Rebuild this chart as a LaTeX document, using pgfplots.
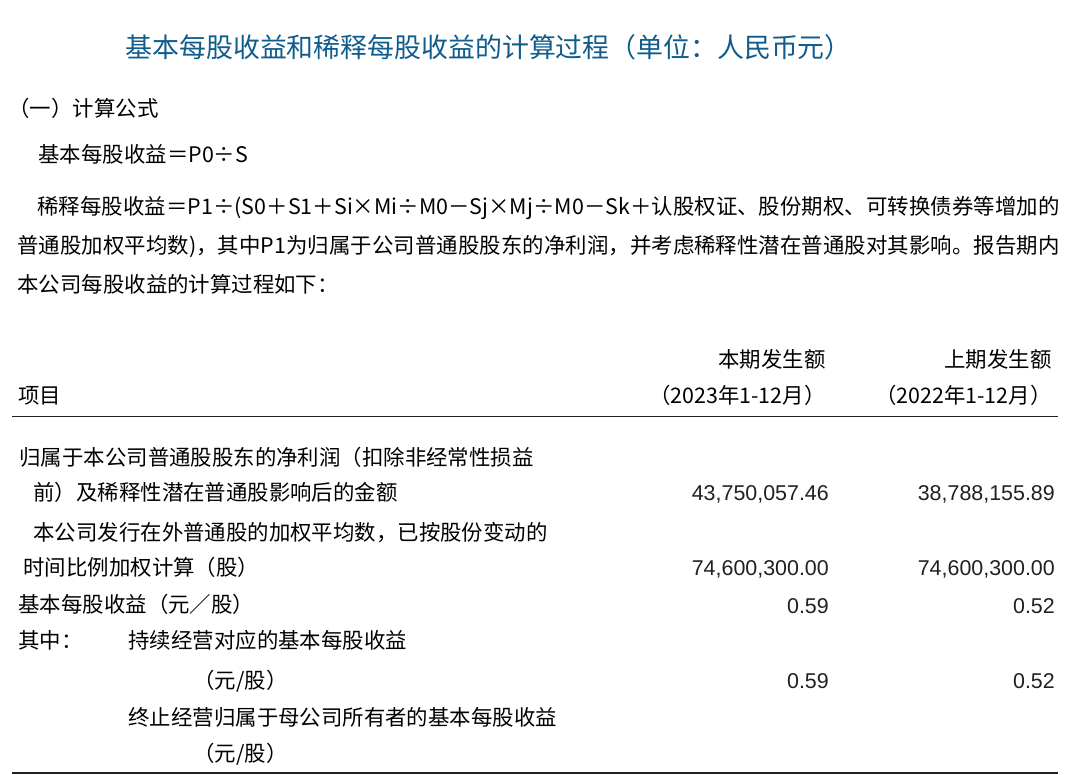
\documentclass[border=0pt]{standalone}
\usepackage{pgfplots}
\pgfplotsset{compat=1.18}
\usepackage{fontspec}
\setmainfont{Liberation Sans}
\newfontfamily\cjk{Noto Sans CJK SC}
\XeTeXlinebreaklocale "zh"
\XeTeXlinebreakskip=0pt plus 1pt
\definecolor{titleblue}{RGB}{16,92,140}
\definecolor{ink}{RGB}{35,31,32}

\begin{document}
\begin{tikzpicture}
\begin{axis}[
  width=1072bp, height=775bp, scale only axis,
  xmin=0, xmax=1072, ymin=0, ymax=775, y dir=reverse,
  hide axis, clip=false,
  every node/.append style={inner sep=0pt, text=ink},
]
% title and notes
\node[anchor=base west, text=titleblue, font=\cjk\fontsize{27}{32}\selectfont]
  at (axis cs:122,58) {基本每股收益和稀释每股收益的计算过程（单位：人民币元）};
\node[anchor=base west, font=\cjk\fontsize{21.5}{26}\selectfont] at (axis cs:5,117) {（一）计算公式};
\node[anchor=base west, font=\cjk\fontsize{21.5}{26}\selectfont] at (axis cs:35,163) {基本每股收益＝P0÷S};
\node[anchor=base west, text width=1042bp, align=justify, font=\cjk\fontsize{21.5}{39.5}\selectfont]
  at (axis cs:14,214) {\hspace*{20bp}稀释每股收益＝P1÷(S0＋S1＋Si×Mi÷M0－Sj×Mj÷M0－Sk＋认股权证、股份期权、可转换债券等增加的普通股加权平均数)，其中P1为归属于公司普通股股东的净利润，并考虑稀释性潜在普通股对其影响。报告期内本公司每股收益的计算过程如下：};

% table header
\node[anchor=base west, font=\cjk\fontsize{21.5}{26}\selectfont] at (axis cs:15,403) {项目};
\node[anchor=base east, font=\cjk\fontsize{21.5}{26}\selectfont] at (axis cs:829,367) {本期发生额};
\node[anchor=base east, font=\cjk\fontsize{21.5}{26}\selectfont] at (axis cs:829,403) {（2023年1-12月）};
\node[anchor=base east, font=\cjk\fontsize{21.5}{26}\selectfont] at (axis cs:1055,367) {上期发生额};
\node[anchor=base east, font=\cjk\fontsize{21.5}{26}\selectfont] at (axis cs:1055,403) {（2022年1-12月）};

% rules
\addplot[ink, line width=1.8bp] coordinates {(12,416.5) (1058,416.5)};
\addplot[ink, line width=1.8bp] coordinates {(12,773) (1058,773)};

% row labels
\node[anchor=base west, font=\cjk\fontsize{21.5}{26}\selectfont] at (axis cs:16,465) {归属于本公司普通股股东的净利润（扣除非经常性损益};
\node[anchor=base west, font=\cjk\fontsize{21.5}{26}\selectfont] at (axis cs:30,500) {前）及稀释性潜在普通股影响后的金额};
\node[anchor=base west, font=\cjk\fontsize{21.5}{26}\selectfont] at (axis cs:30,540) {本公司发行在外普通股的加权平均数，已按股份变动的};
\node[anchor=base west, font=\cjk\fontsize{21.5}{26}\selectfont] at (axis cs:20,575) {时间比例加权计算（股）};
\node[anchor=base west, font=\cjk\fontsize{21.5}{26}\selectfont] at (axis cs:15,612) {基本每股收益（元／股）};
\node[anchor=base west, font=\cjk\fontsize{21.5}{26}\selectfont] at (axis cs:15,648) {其中：};
\node[anchor=base west, font=\cjk\fontsize{21.5}{26}\selectfont] at (axis cs:125,648) {持续经营对应的基本每股收益};
\node[anchor=base west, font=\cjk\fontsize{21.5}{26}\selectfont] at (axis cs:190,688) {（元/股）};
\node[anchor=base west, font=\cjk\fontsize{21.5}{26}\selectfont] at (axis cs:125,725) {终止经营归属于母公司所有者的基本每股收益};
\node[anchor=base west, font=\cjk\fontsize{21.5}{26}\selectfont] at (axis cs:190,761) {（元/股）};

% values: current period (right edge 829) and prior period (right edge 1055)
\addplot[only marks, mark=none, point meta=explicit symbolic, nodes near coords,
  nodes near coords align={anchor=base east},
  every node near coord/.append style={font=\fontsize{21.5}{26}\selectfont, text=ink, inner sep=0pt}]
  table[meta=label, col sep=semicolon, row sep=\\] {
  x;y;label\\
  829;500;43,750,057.46\\
  829;575;74,600,300.00\\
  829;613;0.59\\
  829;688;0.59\\
  };
\addplot[only marks, mark=none, point meta=explicit symbolic, nodes near coords,
  nodes near coords align={anchor=base east},
  every node near coord/.append style={font=\fontsize{21.5}{26}\selectfont, text=ink, inner sep=0pt}]
  table[meta=label, col sep=semicolon, row sep=\\] {
  x;y;label\\
  1055;500;38,788,155.89\\
  1055;575;74,600,300.00\\
  1055;613;0.52\\
  1055;688;0.52\\
  };
\end{axis}
% keep the page the size of the whole axis area
\path (current axis.south west) rectangle (current axis.north east);
\end{tikzpicture}
\end{document}
